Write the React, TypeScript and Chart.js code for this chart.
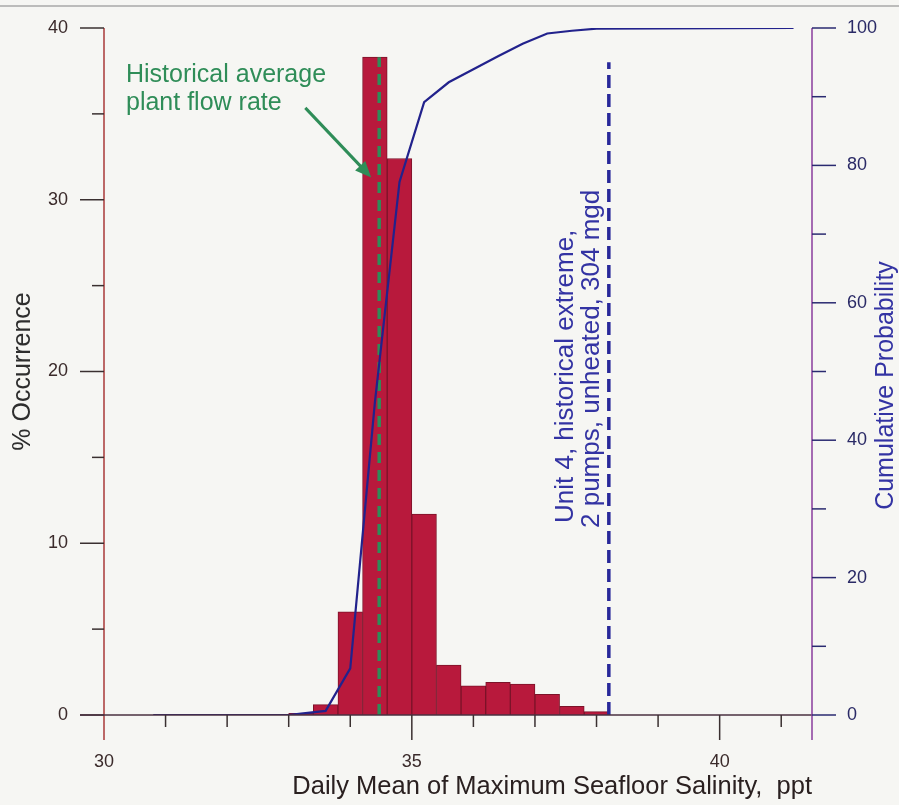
import React, { useEffect, useRef } from 'react';
import { Chart, registerables } from 'chart.js';

Chart.register(...registerables);

// ---- data ----
const binCenters = [33.2, 33.6, 34.0, 34.4, 34.8, 35.2, 35.6, 36.0, 36.4, 36.8, 37.2, 37.6, 38.0];
const occurrencePct = [0.1, 0.6, 6.0, 38.3, 32.4, 11.7, 2.9, 1.7, 1.9, 1.8, 1.2, 0.5, 0.2];

const cumSalinity = [30.8, 33.0, 33.2, 33.6, 34.0, 34.4, 34.8, 35.2, 35.6, 36.0, 36.4, 36.8, 37.2, 37.6, 38.0, 41.2];
const cumProbability = [0, 0, 0.2, 0.6, 6.8, 45.5, 77.6, 89.2, 92.1, 94.0, 95.9, 97.7, 99.2, 99.6, 99.9, 100];

const historicalAvgSalinity = 34.47;
const historicalAvgTop = 38.3;
const unit4Salinity = 38.2;
const unit4Top = 38.0;

const xLabelValues = [30, 35, 40];
const leftLabelStep = 10;
const rightLabelStep = 20;

const FONT = "'Liberation Sans', Arial, Helvetica, sans-serif";
const BG = '#f6f6f3';
const GREEN = '#2f8d58';
const BLUE_TEXT = '#3333a3';

const overlay = {
  id: 'overlay',
  beforeDraw(chart: any) {
    const { ctx, width, height } = chart;
    ctx.save();
    ctx.fillStyle = BG;
    ctx.fillRect(0, 0, width, height);
    // faint scan edge at top
    ctx.strokeStyle = 'rgba(150,150,150,0.6)';
    ctx.lineWidth = 2;
    ctx.beginPath();
    ctx.moveTo(0, 6);
    ctx.lineTo(width, 6);
    ctx.stroke();
    ctx.restore();
  },
  afterDatasetsDraw(chart: any) {
    const { ctx } = chart;
    const { x, y, y2 } = chart.scales;
    const x0 = x.getPixelForValue(30);
    const xr = x.getPixelForValue(41.5);
    const yb = y.getPixelForValue(0);
    const yt = y.getPixelForValue(40);
    ctx.save();
    ctx.lineCap = 'butt';

    // left axis
    ctx.strokeStyle = '#a83838';
    ctx.lineWidth = 1.5;
    ctx.beginPath();
    ctx.moveTo(x0, yt);
    ctx.lineTo(x0, yb + 25);
    ctx.stroke();
    ctx.strokeStyle = '#3a3030';
    for (let v = 0; v <= 40; v += 5) {
      const py = y.getPixelForValue(v);
      const len = v % 10 === 0 ? 24 : 12;
      ctx.beginPath();
      ctx.moveTo(x0 - len, py);
      ctx.lineTo(x0, py);
      ctx.stroke();
    }

    // bottom axis
    ctx.strokeStyle = '#4a3040';
    ctx.beginPath();
    ctx.moveTo(x0 - 24, yb);
    ctx.lineTo(xr, yb);
    ctx.stroke();
    ctx.strokeStyle = '#3a3030';
    for (let v = 31; v <= 41; v += 1) {
      const px = x.getPixelForValue(v);
      const len = v % 5 === 0 ? 25 : 12;
      ctx.beginPath();
      ctx.moveTo(px, yb);
      ctx.lineTo(px, yb + len);
      ctx.stroke();
    }

    // right axis
    ctx.strokeStyle = '#8a3c9c';
    ctx.beginPath();
    ctx.moveTo(xr, yt);
    ctx.lineTo(xr, yb + 25);
    ctx.stroke();
    ctx.strokeStyle = '#2a2a70';
    for (let v = 0; v <= 100; v += 10) {
      const py = y2.getPixelForValue(v);
      const len = v % 20 === 0 ? 24 : 14;
      ctx.beginPath();
      ctx.moveTo(xr, py);
      ctx.lineTo(xr + len, py);
      ctx.stroke();
    }

    // right title
    ctx.fillStyle = BLUE_TEXT;
    ctx.font = `25px ${FONT}`;
    ctx.save();
    ctx.translate(xr + 74, (yt + yb) / 2 + 14);
    ctx.rotate(-Math.PI / 2);
    ctx.textAlign = 'center';
    ctx.textBaseline = 'middle';
    ctx.fillText('Cumulative Probability', 0, 0);
    ctx.restore();

    // green annotation
    ctx.fillStyle = GREEN;
    ctx.font = `25px ${FONT}`;
    ctx.textAlign = 'left';
    ctx.textBaseline = 'alphabetic';
    const tx = x0 + 22;
    ctx.fillText('Historical average', tx, yt + 54);
    ctx.fillText('plant flow rate', tx, yt + 82);

    // arrow
    const ax1 = x.getPixelForValue(33.27), ay1 = y.getPixelForValue(35.35);
    const ax2 = x.getPixelForValue(34.34), ay2 = y.getPixelForValue(31.3);
    const ang = Math.atan2(ay2 - ay1, ax2 - ax1);
    const hl = 16, hw = 7;
    ctx.strokeStyle = GREEN;
    ctx.lineWidth = 3;
    ctx.beginPath();
    ctx.moveTo(ax1, ay1);
    ctx.lineTo(ax2 - Math.cos(ang) * hl * 0.8, ay2 - Math.sin(ang) * hl * 0.8);
    ctx.stroke();
    ctx.beginPath();
    ctx.moveTo(ax2, ay2);
    ctx.lineTo(ax2 - Math.cos(ang) * hl - Math.sin(ang) * hw, ay2 - Math.sin(ang) * hl + Math.cos(ang) * hw);
    ctx.lineTo(ax2 - Math.cos(ang) * hl + Math.sin(ang) * hw, ay2 - Math.sin(ang) * hl - Math.cos(ang) * hw);
    ctx.closePath();
    ctx.fill();

    // blue rotated annotation
    const bx = x.getPixelForValue(unit4Salinity);
    ctx.fillStyle = BLUE_TEXT;
    ctx.font = `26px ${FONT}`;
    ctx.save();
    ctx.translate(bx - 43, yb - 190);
    ctx.rotate(-Math.PI / 2);
    ctx.textAlign = 'left';
    ctx.textBaseline = 'middle';
    ctx.fillText('Unit 4, historical extreme,', 2, 0);
    ctx.fillText('2 pumps, unheated, 304 mgd', -3, 26);
    ctx.restore();

    ctx.restore();
  },
};

const zeroVerticalPadding = (s: any) => {
  s.paddingTop = 0;
  s.paddingBottom = 0;
};

export default function App() {
  const ref = useRef<HTMLCanvasElement>(null);

  useEffect(() => {
    document.body.style.margin = '0';
    document.body.style.background = BG;
    const canvas = ref.current;
    if (!canvas) return;

    const chart = new Chart(canvas, {
      type: 'bar',
      data: {
        datasets: [
          {
            type: 'line',
            label: 'Cumulative Probability',
            data: cumSalinity.map((s, i) => ({ x: s, y: cumProbability[i] })),
            xAxisID: 'x',
            yAxisID: 'y2',
            borderColor: '#22228c',
            borderWidth: 2.2,
            pointRadius: 0,
            tension: 0,
            fill: false,
            order: 0,
          } as any,
          {
            type: 'line',
            label: 'Historical average',
            data: [
              { x: historicalAvgSalinity, y: 0 },
              { x: historicalAvgSalinity, y: historicalAvgTop },
            ],
            xAxisID: 'x',
            yAxisID: 'y',
            borderColor: GREEN,
            borderWidth: 3.5,
            borderDash: [11, 7],
            pointRadius: 0,
            fill: false,
            order: 1,
          } as any,
          {
            type: 'line',
            label: 'Unit 4',
            data: [
              { x: unit4Salinity, y: 0 },
              { x: unit4Salinity, y: unit4Top },
            ],
            xAxisID: 'x',
            yAxisID: 'y',
            borderColor: '#28289a',
            borderWidth: 3.5,
            borderDash: [13, 6],
            pointRadius: 0,
            fill: false,
            order: 1,
          } as any,
          {
            type: 'bar',
            label: '% Occurrence',
            data: binCenters.map((c, i) => ({ x: c, y: occurrencePct[i] })),
            xAxisID: 'x',
            yAxisID: 'y',
            backgroundColor: '#b8193c',
            borderColor: '#7c1329',
            borderWidth: 1,
            barPercentage: 1,
            categoryPercentage: 1,
            order: 2,
          } as any,
        ],
      },
      options: {
        responsive: false,
        animation: false,
        devicePixelRatio: 1,
        layout: { padding: { top: 28, left: 0, right: 0, bottom: 0 } },
        plugins: { legend: { display: false }, tooltip: { enabled: false } },
        scales: {
          x: {
            type: 'linear',
            position: 'bottom',
            min: 30,
            max: 41.5,
            offset: false,
            grid: { display: false, drawTicks: false },
            border: { display: false },
            ticks: {
              stepSize: 1,
              autoSkip: false,
              maxRotation: 0,
              padding: 36,
              color: '#3b2b2b',
              font: { size: 18, family: FONT },
              callback: (v: any) => (xLabelValues.includes(Number(v)) ? String(v) : ''),
            },
            title: {
              display: true,
              text: 'Daily Mean of Maximum Seafloor Salinity,  ppt',
              align: 'end',
              color: '#2a2020',
              font: { size: 25.5, family: FONT },
              padding: { top: 0, bottom: 3 },
            },
            afterFit: (s: any) => {
              s.height = 90;
              s.paddingLeft = 0;
              s.paddingRight = 0;
            },
          },
          y: {
            type: 'linear',
            position: 'left',
            min: 0,
            max: 40,
            grid: { display: false, drawTicks: false },
            border: { display: false },
            ticks: {
              stepSize: 5,
              padding: 36,
              color: '#3b2b2b',
              font: { size: 18, family: FONT },
              callback: (v: any) => (Number(v) % leftLabelStep === 0 ? String(v) : ''),
            },
            title: {
              display: true,
              text: '% Occurrence',
              color: '#2e2e2e',
              font: { size: 25, family: FONT },
              padding: { top: 8, bottom: 0 },
            },
            afterFit: (s: any) => {
              s.width = 104;
              zeroVerticalPadding(s);
            },
          },
          y2: {
            type: 'linear',
            position: 'right',
            min: 0,
            max: 100,
            grid: { display: false, drawTicks: false },
            border: { display: false },
            ticks: {
              stepSize: 10,
              padding: 35,
              color: '#2a2a66',
              font: { size: 18, family: FONT },
              callback: (v: any) => (Number(v) % rightLabelStep === 0 ? String(v) : ''),
            },
            afterFit: (s: any) => {
              s.width = 87;
              zeroVerticalPadding(s);
            },
          },
        },
      } as any,
      plugins: [overlay],
    });

    return () => chart.destroy();
  }, []);

  return (
    <div style={{ width: 899, height: 805 }}>
      <canvas ref={ref} width={899} height={805} style={{ display: 'block', width: 899, height: 805 }} />
    </div>
  );
}
